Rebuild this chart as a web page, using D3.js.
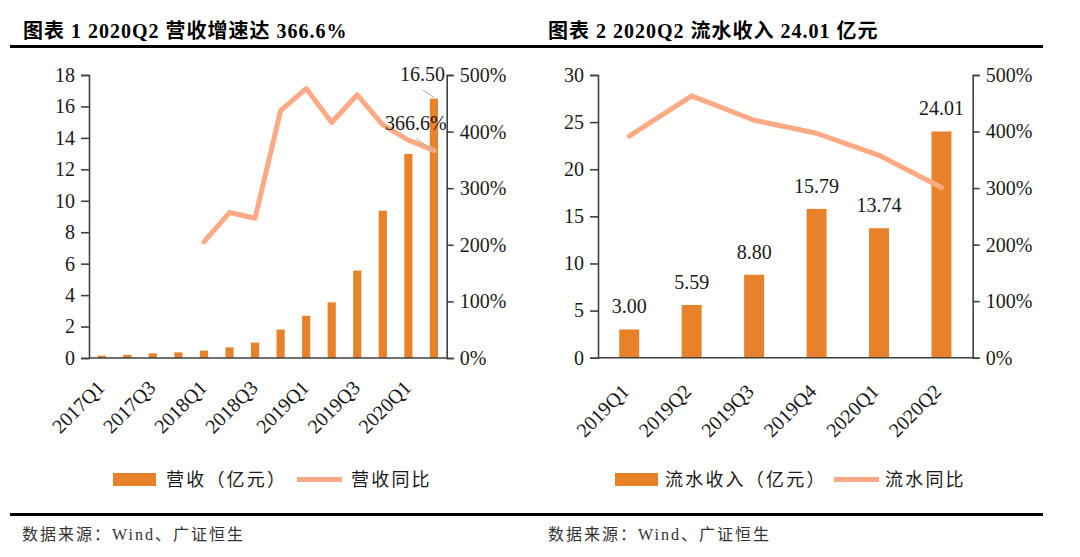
<!DOCTYPE html>
<html><head><meta charset="utf-8">
<script src="https://cdn.jsdelivr.net/npm/d3@7"></script>
<style>
html,body{margin:0;padding:0;background:#fff;}
svg{display:block;}
text{font-family:"Liberation Serif","Noto Sans CJK SC",serif;}
</style></head>
<body>
<svg id="c" width="1080" height="557"></svg>
<script>
// ---- Data ----
const cats1 = ["2017Q1","2017Q2","2017Q3","2017Q4","2018Q1","2018Q2","2018Q3","2018Q4","2019Q1","2019Q2","2019Q3","2019Q4","2020Q1","2020Q2"];
const revenue1 = [0.15,0.2,0.3,0.36,0.47,0.68,0.98,1.81,2.69,3.54,5.56,9.37,12.98,16.50];
const growth1 = [null,null,null,null,205,257,247,437,476,416,465,412,385,366.6];
const shownTicks1 = ["2017Q1","2017Q3","2018Q1","2018Q3","2019Q1","2019Q3","2020Q1"];
const leftTicks1 = [0,2,4,6,8,10,12,14,16,18];
const pctTicks = [0,100,200,300,400,500];

const cats2 = ["2019Q1","2019Q2","2019Q3","2019Q4","2020Q1","2020Q2"];
const flow2 = [3.00,5.59,8.80,15.79,13.74,24.01];
const growth2 = [392,463,420,397,358,301];
const leftTicks2 = [0,5,10,15,20,25,30];

const title1 = "图表 1 2020Q2 营收增速达 366.6%";
const title2 = "图表 2 2020Q2 流水收入 24.01 亿元";
const legend1 = ["营收（亿元）","营收同比"];
const legend2 = ["流水收入（亿元）","流水同比"];
const source = "数据来源：Wind、广证恒生";

// ---- Styles ----
const BAR = "#E8822A", LINE = "#FBAA83", AX = "#404040", TXT = "#1a1a1a";

const svg = d3.select("#c");
svg.append("rect").attr("width",1080).attr("height",557).attr("fill","#fff");

// header / footer rules
svg.append("line").attr("x1",10).attr("x2",1043).attr("y1",46.5).attr("y2",46.5).attr("stroke","#000").attr("stroke-width",3);
svg.append("line").attr("x1",10).attr("x2",1043).attr("y1",514.5).attr("y2",514.5).attr("stroke","#000").attr("stroke-width",3);

function title(x, t){
  svg.append("text").attr("x",x).attr("y",38).attr("font-size",20).attr("font-weight","bold")
    .attr("letter-spacing",1).attr("fill","#000").text(t);
}
title(23, title1);
title(548, title2);
function src(x){
  svg.append("text").attr("x",x).attr("y",540).attr("font-size",16).attr("letter-spacing",2)
    .attr("fill","#333").text(source);
}
src(22); src(548);

function chart(o){
  const g = svg.append("g");
  const x = d3.scaleBand().domain(o.cats).range([o.x0,o.x1]).padding(0);
  const bw = x.bandwidth()*0.32;
  const y = d3.scaleLinear().domain(o.yDom).range([o.yb,o.yt]);
  const y2 = d3.scaleLinear().domain([0,500]).range([o.yb,o.yt]);

  // bars
  g.selectAll("rect.bar").data(o.vals).join("rect")
    .attr("x",(d,i)=>x(o.cats[i])+x.bandwidth()/2-bw/2)
    .attr("y",d=>y(d)).attr("width",bw).attr("height",d=>o.yb-y(d)).attr("fill",BAR);

  // axes
  const la = d3.axisLeft(y).tickValues(o.yTicks).tickSize(8).tickPadding(6).tickFormat(d3.format("d"));
  const lg = g.append("g").attr("transform",`translate(${o.x0},0)`).call(la);
  const ra = d3.axisRight(y2).tickValues(pctTicks).tickSize(7).tickPadding(6).tickFormat(d=>d+"%");
  const rg = g.append("g").attr("transform",`translate(${o.x1},0)`).call(ra);
  [lg,rg].forEach(a=>{
    a.select(".domain").attr("stroke",AX).attr("stroke-width",1.6);
    a.selectAll(".tick line").attr("stroke",AX).attr("stroke-width",1.6);
    a.selectAll(".tick text").attr("font-size",20).attr("fill",TXT).attr("font-family","Liberation Serif");
  });
  g.append("line").attr("x1",o.x0).attr("x2",o.x1).attr("y1",o.yb).attr("y2",o.yb).attr("stroke",AX).attr("stroke-width",1.6);

  // x labels
  g.selectAll("text.xl").data(o.shown).join("text")
    .attr("transform",d=>`translate(${x(d)+x.bandwidth()/2+o.lx},${o.yb+o.ly}) rotate(-45)`)
    .attr("text-anchor","end").attr("font-size",20).attr("fill",TXT).text(d=>d);

  // line
  const line = d3.line().defined(d=>d!=null)
    .x((d,i)=>x(o.cats[i])+x.bandwidth()/2).y(d=>y2(d));
  g.append("path").datum(o.growth).attr("d",line).attr("fill","none")
    .attr("stroke",LINE).attr("stroke-width",5).attr("stroke-linejoin","round").attr("stroke-linecap","round");

  // legend
  const L = o.legend;
  g.append("rect").attr("x",L.rx).attr("y",473).attr("width",43).attr("height",13).attr("fill",BAR);
  g.append("text").attr("x",L.t1x).attr("y",486).attr("font-size",18).attr("letter-spacing",2.2).attr("fill",TXT).text(L.labels[0]);
  g.append("line").attr("x1",L.lx).attr("x2",L.lx+45).attr("y1",479.5).attr("y2",479.5).attr("stroke",LINE).attr("stroke-width",5);
  g.append("text").attr("x",L.t2x).attr("y",486).attr("font-size",18).attr("letter-spacing",2.2).attr("fill",TXT).text(L.labels[1]);
  return {g,x,y,y2,bw};
}

// ---- Chart 1 ----
const c1 = chart({cats:cats1, vals:revenue1, growth:growth1, shown:shownTicks1,
  x0:89, x1:446.7, yb:358, yt:75, yDom:[0,18], yTicks:leftTicks1, lx:4, ly:31,
  legend:{rx:113, t1x:166, lx:297, t2x:351, labels:legend1}});
// data labels for last point
{
  const i = cats1.length-1;
  const cx = c1.x(cats1[i])+c1.x.bandwidth()/2;
  c1.g.append("text").attr("x",cx-11.5).attr("y",80.5).attr("text-anchor","middle").attr("font-size",20).attr("fill",TXT)
    .text(revenue1[i].toFixed(2));
  c1.g.append("line").attr("x1",cx-11).attr("y1",90).attr("x2",cx).attr("y2",c1.y(revenue1[i])-1)
    .attr("stroke","#A6A6A6").attr("stroke-width",1);
  c1.g.append("text").attr("x",cx-18).attr("y",129.5).attr("text-anchor","middle").attr("font-size",20).attr("fill",TXT)
    .text(growth1[i].toFixed(1)+"%");
  c1.g.append("line").attr("x1",cx-17.5).attr("y1",139).attr("x2",cx).attr("y2",c1.y2(growth1[i]))
    .attr("stroke","#A6A6A6").attr("stroke-width",1);
}

// ---- Chart 2 ----
const c2 = chart({cats:cats2, vals:flow2, growth:growth2, shown:cats2,
  x0:598, x1:972.7, yb:357.7, yt:75, yDom:[0,30], yTicks:leftTicks2, lx:1, ly:35,
  legend:{rx:615, t1x:665, lx:834, t2x:885, labels:legend2}});
c2.g.selectAll("text.vl").data(flow2).join("text")
  .attr("x",(d,i)=>c2.x(cats2[i])+c2.x.bandwidth()/2).attr("y",d=>c2.y(d)-16)
  .attr("text-anchor","middle").attr("font-size",20).attr("fill",TXT).text(d=>d.toFixed(2));
</script>
</body></html>
